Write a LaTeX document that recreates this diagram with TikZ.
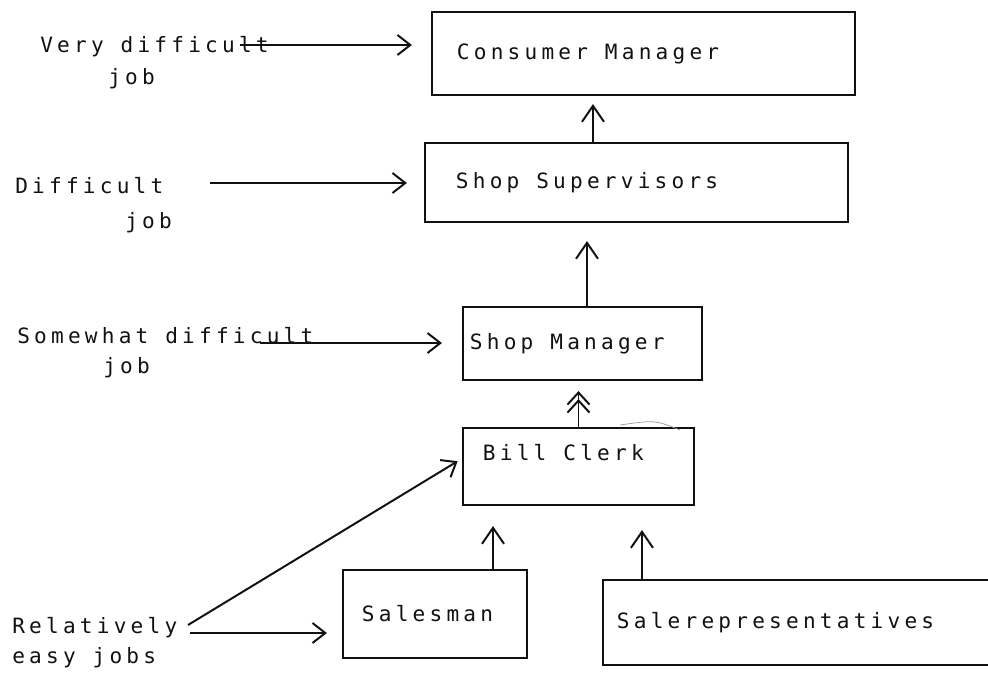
\documentclass[tikz,border=0pt]{standalone}
\usepackage{fontspec}
\setmonofont{DejaVu Sans Mono}[LetterSpace=20]
\usepackage{tikz}
\usetikzlibrary{arrows.meta,positioning,calc}
\definecolor{ink}   {HTML}{111111}
\definecolor{smudge}{HTML}{9A9A9A}
\newcommand\jobfont{\fontsize{15}{18}\selectfont\ttfamily}
\tikzset{
  box/.style    ={draw=ink, line width=1.5pt, align=flush left, text=ink,
                  font=\jobfont, inner ysep=2pt},
  lbl/.style    ={anchor=base west, inner sep=0pt, font=\jobfont, text=ink},
  arr/.style    ={-{Straight Barb[length=3.2mm,width=5mm]}, line width=1.4pt,
                  draw=ink},
  uparr/.style  ={-{Straight Barb[length=4mm,width=5.5mm]}, line width=1.4pt,
                  draw=ink},
  duparr/.style ={-{Straight Barb[length=3mm,width=5.5mm,sep=-1.6mm]
                   Straight Barb[length=3mm,width=5.5mm]}, line width=1.4pt,
                  draw=ink},
}

\begin{document}
\begin{tikzpicture}[x=0.025cm,y=-0.025cm]
  \fill[white] (0,0) rectangle (988,679);
  \clip (0,0) rectangle (988,679);

  % hierarchy of jobs
  \node[box,text width=9.325cm,inner xsep=0.625cm,minimum height=2.075cm]
    (cm) at (643.5,53.5) {Consumer Manager};
  \node[box,text width=9.025cm,inner xsep=0.775cm,minimum height=1.975cm]
    (ss) at (636.5,182.5) {Shop Supervisors};
  \node[box,text width=5.625cm,inner xsep=0.175cm,minimum height=1.825cm]
    (sm) at (582.5,343.5) {Shop Manager};
  \node[box,text width=4.775cm,inner xsep=0.5cm,minimum height=1.925cm,
        text depth=0.72cm]
    (bc) at (578.5,466.5) {Bill Clerk};
  \node[box,text width=3.65cm,inner xsep=0.475cm,minimum height=2.2cm]
    (sa) at (435,614) {Salesman};
  \node[box,text width=9.475cm,inner xsep=0.35cm,minimum height=2.125cm]
    (sr) at (806.5,622.5) {Salerepresentatives};

  \draw[uparr,shorten >=0.2cm] ([xshift=-1.0875cm]ss.north)
    -- ([xshift=-1.0875cm]ss.north |- cm.south);
  \draw[uparr,shorten >=0.45cm] ([xshift=0.1125cm]sm.north)
    -- ([xshift=0.1125cm]sm.north |- ss.south);
  \draw[duparr,shorten >=0.25cm] (bc.north) -- (bc.north |- sm.south);
  \draw[uparr,shorten >=0.5cm] ([xshift=1.45cm]sa.north)
    -- ([xshift=1.45cm]sa.north |- bc.south);
  \draw[uparr,shorten >=0.6cm] ([xshift=-4.1125cm]sr.north)
    -- ([xshift=-4.1125cm]sr.north |- bc.south);
  \draw[smudge,line width=0.5pt] (620,425) .. controls (655,420) .. (680,430);

  % how difficult each job is
  \node[lbl] (vd)  at (40,52)  {Very difficult};
  \node[lbl] (vdj) at (108,84) {job};
  \node[lbl] (df)  at (15,193) {Difficult};
  \node[lbl] (dfj) at (125,228) {job};
  \node[lbl] (sw)  at (17,343) {Somewhat difficult};
  \node[lbl] (swj) at (103,373) {job};
  \node[lbl] (re)  at (12,633) {Relatively};
  \node[lbl] (rej) at (12,663) {easy jobs};

  \coordinate (vd-s) at (240,45);
  \coordinate (df-s) at (210,183);
  \coordinate (sw-s) at (260,343);
  \coordinate (re-s) at (190,633);
  \coordinate (re-d) at (188,625);

  \draw[arr,shorten >=0.475cm] (vd-s) -- (vd-s -| cm.west);
  \draw[arr,shorten >=0.425cm] (df-s) -- (df-s -| ss.west);
  \draw[arr,shorten >=0.5cm]   (sw-s) -- (sw-s -| sm.west);
  \draw[arr,shorten >=0.375cm] (re-s) -- (re-s -| sa.west);
  \draw[arr,shorten >=0.125cm] (re-d) -- ($(bc.south west)!0.6!(bc.north west)$);
\end{tikzpicture}
\end{document}
